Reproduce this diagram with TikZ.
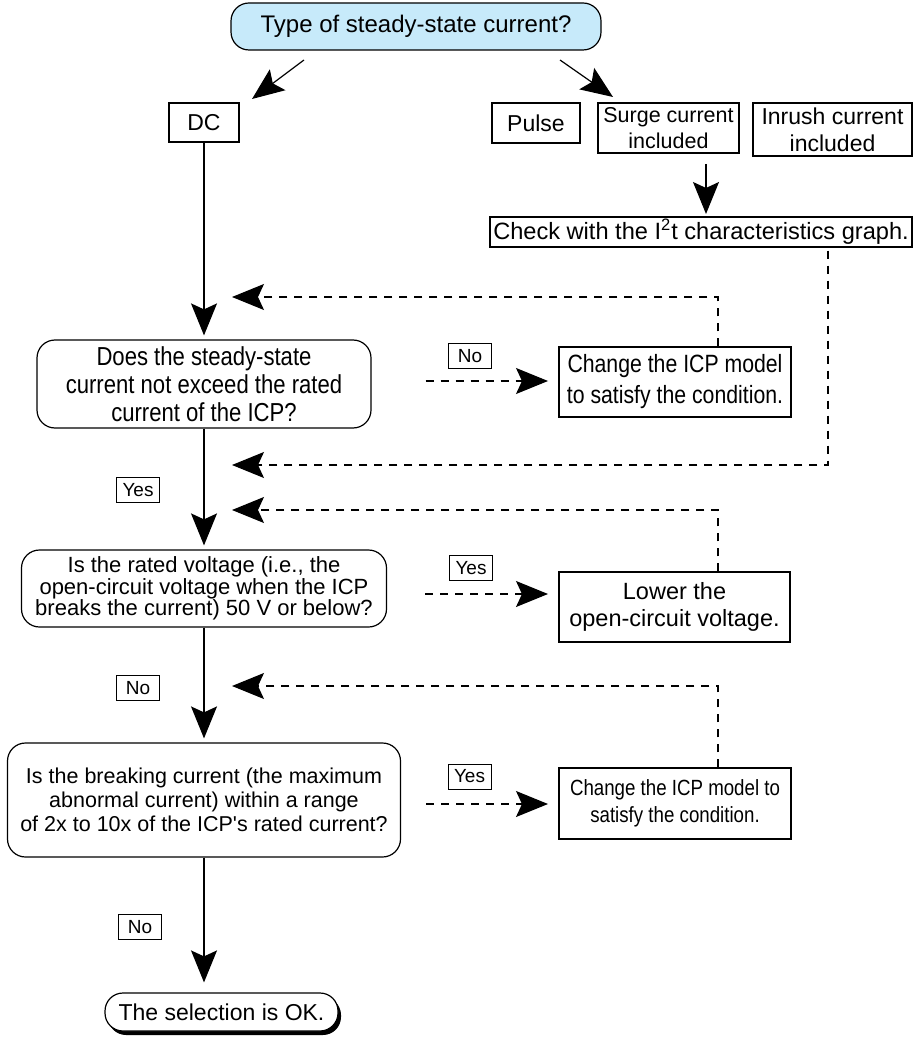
\documentclass[tikz,border=0pt]{standalone}
\usepackage{fontspec}
\setmainfont{Liberation Sans}[Ligatures=TeXOff]
\newfontfamily\narrowfont{Liberation Sans}[FakeStretch=0.85, Ligatures=TeXOff]
\usetikzlibrary{arrows.meta,shadows}
\definecolor{topblue}{RGB}{199,234,250}

\tikzset{
  box/.style={draw, line width=0.6pt, inner sep=0pt, align=center},
  decision/.style={box, rounded corners=9pt},
  tag/.style={draw, line width=0.5pt, inner sep=1pt, minimum width=21.5pt, minimum height=12.5pt, font=\fontsize{9.5}{11}\selectfont},
  arr/.style={-{Stealth[length=16pt, width=13pt, inset=3pt]}, line width=0.6pt},
  fb/.style={arr, dash pattern=on 4pt off 3.5pt}
}

\begin{document}
\begin{tikzpicture}[x=0.5pt, y=-0.5pt]
      \useasboundingbox (0,0) rectangle (913,1037);

      % Start
      \node[box, rounded corners=9pt, fill=topblue, minimum width=185pt, minimum height=23.5pt,
        font=\fontsize{12}{14}\selectfont] (top) at (416,26.5) {Type of steady-state current?};

      % Kinds of current
      \node[box, minimum width=35pt, minimum height=19.5pt, font=\fontsize{11.5}{13}\selectfont] (dc) at (204,122.5) {DC};
      \node[box, minimum width=44pt, minimum height=20pt, font=\fontsize{11.5}{13}\selectfont] (pulse) at (536,123) {Pulse};
      \node[box, minimum width=70.5pt, minimum height=25pt, font=\fontsize{10.75}{13}\selectfont] (surge) at (668.5,128) {Surge current\\included};
      \node[box, minimum width=79.5pt, minimum height=26.5pt, font=\fontsize{11.5}{13.5}\selectfont] (inrush) at (832.5,129.5) {Inrush current\\included};
      \node[box, minimum width=211pt, minimum height=15pt, font=\fontsize{11.8}{14}\selectfont] (check) at (701,232) {Check with the I\textsuperscript{2}t characteristics graph.};

      % Checks
      \node[decision, minimum width=167pt, minimum height=44pt, font=\narrowfont\fontsize{13}{14}\selectfont] (dec1) at (204,384)
        {Does the steady-state\\current not exceed the rated\\current of the ICP?};
      \node[box, minimum width=116pt, minimum height=35pt, font=\narrowfont\fontsize{12.5}{15.5}\selectfont] (chg1) at (675,382)
        {Change the ICP model\\to satisfy the condition.};

      \node[decision, minimum width=182.5pt, minimum height=38.5pt, font=\fontsize{11}{10.9}\selectfont] (dec2) at (204,588.5)
        {Is the rated voltage (i.e., the\\open-circuit voltage when the ICP\\breaks the current) 50 V or below?};
      \node[box, minimum width=115.5pt, minimum height=35pt, font=\fontsize{11.75}{13.5}\selectfont] (low) at (674.5,607)
        {Lower the\\open-circuit voltage.};

      \node[decision, minimum width=196.5pt, minimum height=57pt, font=\fontsize{10.75}{12}\selectfont] (dec3) at (204,800)
        {Is the breaking current (the maximum\\abnormal current) within a range\\of 2x to 10x of the ICP's rated current?};
      \node[box, minimum width=116pt, minimum height=35.5pt, font=\narrowfont\fontsize{11}{13.5}\selectfont] (chg2) at (675,803.5)
        {Change the ICP model to\\satisfy the condition.};

      % End
      \node[box, rounded corners=9pt, minimum width=116.5pt, minimum height=19pt, fill=white,
        drop shadow={shadow xshift=1.5pt, shadow yshift=-2pt, fill=black, opacity=1},
        font=\fontsize{11.5}{13}\selectfont] (ok) at (221.5,1012) {The selection is OK.};

      % Labels
      \node[tag] (no1) at (470,356) {No};
      \node[tag] (yes1) at (138,490) {Yes};
      \node[tag] (yes2) at (471,568) {Yes};
      \node[tag] (no2) at (138,688) {No};
      \node[tag] (yes3) at (469.5,776.5) {Yes};
      \node[tag] (no3) at (140,927) {No};

      % Free ends
      \coordinate (ls) at (304,60);
      \coordinate (le) at (252,99);
      \coordinate (rs) at (560,60);
      \coordinate (re) at (613,97);
      \coordinate (ss) at (706,164);
      \coordinate (se) at (706,214);
      \coordinate (h1) at (548,381);
      \coordinate (h2) at (548,594);
      \coordinate (h3) at (548,804);
      \coordinate (t1) at (232,297);
      \coordinate (t2) at (232,465);
      \coordinate (t3) at (232,510);
      \coordinate (t4) at (232,686);
      \coordinate (c1) at (718,0);
      \coordinate (c2) at (828,0);

      % Main flow
      \draw[arr] (ls) -- (le);
      \draw[arr] (rs) -- (re);
      \draw[arr] (ss) -- (se);
      \draw[arr, shorten >=2pt] (dc.south) -- (dec1.north);
      \draw[arr, shorten >=2pt] (dec1.south) -- (dec1.south |- dec2.north);
      \draw[arr, shorten >=2pt] (dec2.south) -- (dec2.south |- dec3.north);
      \draw[arr, shorten >=5pt] (dec3.south) -- (dec3.south |- ok.north);

      % Side branches
      \draw[fb, shorten <=27pt] (dec1.east |- h1) -- (h1);
      \draw[fb, shorten <=19pt] (dec2.east |- h2) -- (h2);
      \draw[fb, shorten <=12.5pt] (dec3.east |- h3) -- (h3);

      % Back to the main flow
      \draw[fb] (chg1.north -| c1) |- (t1);
      \draw[fb, shorten <=1.5pt] (check.south -| c2) |- (t2);
      \draw[fb] (low.north -| c1) |- (t3);
      \draw[fb] (chg2.north -| c1) |- (t4);

   \end{tikzpicture}
\end{document}
